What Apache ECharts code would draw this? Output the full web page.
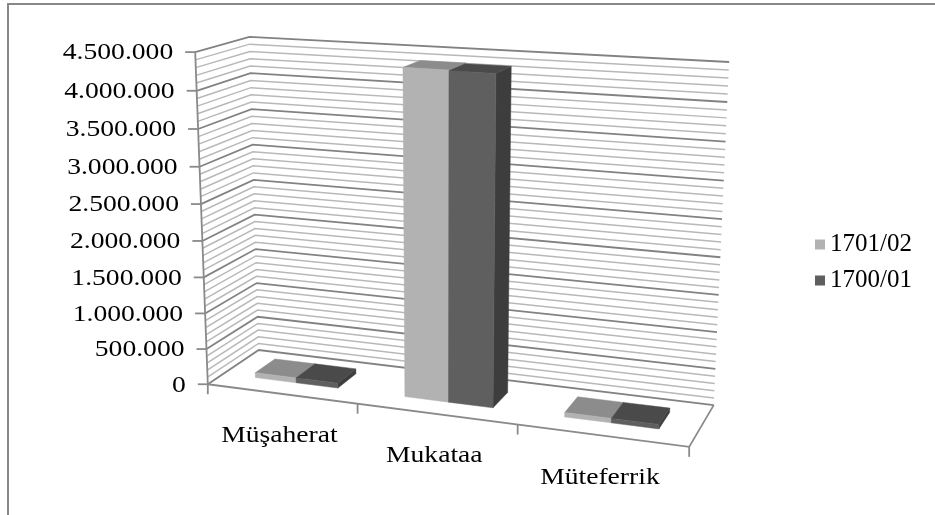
<!DOCTYPE html>
<html>
<head>
<meta charset="utf-8">
<script src="https://cdn.jsdelivr.net/npm/echarts@6/dist/echarts.min.js"></script>
<style>html,body{margin:0;padding:0;background:#fff}#c{width:935px;height:515px}</style>
</head>
<body>
<div id="c"></div>
<script>
// ---- data ----
const categories = ['Müşaherat', 'Mukataa', 'Müteferrik'];
const seriesNames = ['1701/02', '1700/01'];
const values170102 = [70000, 4380000, 60000];
const values170001 = [70000, 4370000, 60000];
const yTickLabels = ['0', '500.000', '1.000.000', '1.500.000', '2.000.000', '2.500.000', '3.000.000', '3.500.000', '4.000.000', '4.500.000'];
const yMin = 0, yMax = 4500000, yInterval = 500000, yMinorInterval = 100000;

// ---- layout of the 3D view (projection calibration, in normalized box space) ----
const viewCorners = [
  [0, 0, 0, 208, 384], [0, 1, 0, 195, 52], [1, 0, 0, 689, 447],
  [0, 0, 1, 258, 350], [0, 1, 1, 250, 37], [1, 1, 1, 729, 62], [1, 0, 1, 714, 405]
];
const frontAxisY = [384, 349, 314, 278, 241, 204, 166, 129, 91, 52];
const clusterFrac = 0.56, depthStart = 0.3, depthEnd = 0.7;
const FONT = '24px "Liberation Serif", "Times New Roman", serif';
const TEXT_SX = 1.15;

function fitCamera(pts) {
  const n = 11;
  const M = Array.from({length: n}, () => new Array(n).fill(0));
  const r = new Array(n).fill(0);
  function add(row, b) {
    for (let i = 0; i < n; i++) { r[i] += row[i] * b; for (let j = 0; j < n; j++) M[i][j] += row[i] * row[j]; }
  }
  for (const [X, Y, Z, x, y] of pts) {
    add([X, Y, Z, 1, 0, 0, 0, 0, -x * X, -x * Y, -x * Z], x);
    add([0, 0, 0, 0, X, Y, Z, 1, -y * X, -y * Y, -y * Z], y);
  }
  for (let c = 0; c < n; c++) {
    let p = c;
    for (let i = c + 1; i < n; i++) if (Math.abs(M[i][c]) > Math.abs(M[p][c])) p = i;
    [M[c], M[p]] = [M[p], M[c]]; [r[c], r[p]] = [r[p], r[c]];
    for (let i = c + 1; i < n; i++) {
      const f = M[i][c] / M[c][c];
      for (let j = c; j < n; j++) M[i][j] -= f * M[c][j];
      r[i] -= f * r[c];
    }
  }
  const p = new Array(n).fill(0);
  for (let i = n - 1; i >= 0; i--) {
    let s = r[i];
    for (let j = i + 1; j < n; j++) s -= M[i][j] * p[j];
    p[i] = s / M[i][i];
  }
  return p;
}
const calib = viewCorners.slice();
frontAxisY.forEach((y, k) => calib.push([0, k / 9, 0, 208 - 13 * (384 - y) / 332, y]));
const CAM = fitCamera(calib);
function P(u, v, w) {
  const d = CAM[8] * u + CAM[9] * v + CAM[10] * w + 1;
  return [(CAM[0] * u + CAM[1] * v + CAM[2] * w + CAM[3]) / d, (CAM[4] * u + CAM[5] * v + CAM[6] * w + CAM[7]) / d];
}
function normV(api, cs, value) {
  const pt = api.coord([0, value]);
  return (cs.y + cs.height - pt[1]) / cs.height;
}

const barColors = [
  {front: '#b2b2b2', top: '#8c8c8c', side: '#7c7c7c'},
  {front: '#5f5f5f', top: '#4a4a4a', side: '#3d3d3d'}
];
function barRender(s) {
  return function (params, api) {
    const cs = params.coordSys;
    const ci = api.value(0), val = api.value(1);
    const base = api.coord([ci, 0]);
    const top = api.coord([ci, val]);
    const band = api.size([1, 0])[0];
    const uc = (base[0] - cs.x) / cs.width, du = band / cs.width;
    const v1 = (cs.y + cs.height - top[1]) / cs.height;
    const bw = du * clusterFrac / 2;
    const u0 = uc - du * clusterFrac / 2 + s * bw, u1 = u0 + bw;
    const w0 = depthStart, w1 = depthEnd;
    const col = barColors[s];
    const poly = (pts, fill) => ({type: 'polygon', shape: {points: pts}, style: {fill: fill, stroke: fill, lineWidth: 0.5}});
    return {type: 'group', children: [
      poly([P(u1, 0, w0), P(u1, 0, w1), P(u1, v1, w1), P(u1, v1, w0)], col.side),
      poly([P(u0, v1, w0), P(u1, v1, w0), P(u1, v1, w1), P(u0, v1, w1)], col.top),
      poly([P(u0, 0, w0), P(u1, 0, w0), P(u1, v1, w0), P(u0, v1, w0)], col.front)
    ]};
  };
}

const gridValues = [];
for (let v = yMin; v <= yMax; v += yMinorInterval) gridValues.push(v);

const chart = echarts.init(document.getElementById('c'), null, {renderer: 'canvas'});
chart.setOption({
  animation: false,
  backgroundColor: '#fff',
  color: ['#b2b2b2', '#5f5f5f'],
  grid: {left: 0, top: 0, width: 900, height: 450, containLabel: false},
  xAxis: {type: 'category', data: categories, show: false},
  yAxis: {type: 'value', min: yMin, max: yMax, interval: yInterval, show: false},
  legend: {
    orient: 'vertical', left: 810, top: 227, itemWidth: 10, itemHeight: 10, icon: 'rect', itemGap: 11,
    textStyle: {fontFamily: '"Liberation Serif", "Times New Roman", serif', fontSize: 25, color: '#000', lineHeight: 25},
    data: seriesNames
  },
  graphic: [{
    type: 'polyline', silent: true,
    shape: {points: [[8, 515], [8, 4], [935, 4]]},
    style: {stroke: '#888', lineWidth: 2, fill: null}
  }],
  series: [
    { // walls + gridlines
      type: 'custom', name: 'walls', z: 1, silent: true,
      data: gridValues.map(v => [0, v]),
      renderItem: function (params, api) {
        const cs = params.coordSys;
        const val = api.value(1);
        const v = normV(api, cs, val);
        const major = val % yInterval === 0;
        return {type: 'polyline', shape: {points: [P(0, v, 0), P(0, v, 1), P(1, v, 1)]},
          style: {stroke: major ? '#828282' : '#b8b8b8', lineWidth: major ? 1.8 : 1.5, fill: null}};
      }
    },
    { // floor edges, value axis line & ticks, category ticks
      type: 'custom', name: 'frame', z: 2, silent: true,
      data: [[0, 0]],
      renderItem: function (params, api) {
        const cs = params.coordSys;
        const ch = [];
        const line = (a, b) => ({type: 'line', shape: {x1: a[0], y1: a[1], x2: b[0], y2: b[1]}, style: {stroke: '#8a8a8a', lineWidth: 1.8}});
        ch.push({type: 'polyline', shape: {points: [P(0, 0, 0), P(1, 0, 0), P(1, 0, 1)]}, style: {stroke: '#8a8a8a', lineWidth: 1.8, fill: null}});
        ch.push(line(P(0, 0, 0), P(0, 1, 0)));
        for (let i = 0; i < yTickLabels.length; i++) {
          const v = normV(api, cs, yMin + i * yInterval);
          const a = P(0, v, 0);
          ch.push(line([a[0] - 10, a[1]], a));
        }
        for (let k = 0; k <= categories.length; k++) {
          const a = P(k / categories.length, 0, 0);
          ch.push(line(a, [a[0], a[1] + 10]));
        }
        return {type: 'group', children: ch};
      }
    },
    { // value axis labels
      type: 'custom', name: 'yLabels', z: 3, silent: true,
      data: yTickLabels.map((t, i) => [0, yMin + i * yInterval]),
      renderItem: function (params, api) {
        const cs = params.coordSys;
        const v = normV(api, cs, api.value(1));
        const a = P(0, v, 0);
        return {type: 'text', x: a[0] - 22, y: a[1] + 1, scaleX: TEXT_SX,
          style: {text: yTickLabels[params.dataIndex], font: FONT, fill: '#000', align: 'right', verticalAlign: 'middle'}};
      }
    },
    { // category labels
      type: 'custom', name: 'xLabels', z: 3, silent: true,
      data: categories.map((c, i) => [i, 0]),
      renderItem: function (params, api) {
        const cs = params.coordSys;
        const p = api.coord([api.value(0), 0]);
        const u = (p[0] - cs.x) / cs.width;
        const a = P(u, 0, 0);
        return {type: 'text', x: a[0] - 2, y: a[1] + 42, scaleX: TEXT_SX,
          style: {text: categories[params.dataIndex], font: FONT, fill: '#000', align: 'center', verticalAlign: 'middle'}};
      }
    },
    {
      type: 'custom', name: seriesNames[0], z: 5,
      itemStyle: {color: '#b2b2b2'},
      data: values170102.map((v, i) => [i, v]),
      encode: {x: 0, y: 1},
      renderItem: barRender(0)
    },
    {
      type: 'custom', name: seriesNames[1], z: 6,
      itemStyle: {color: '#5f5f5f'},
      data: values170001.map((v, i) => [i, v]),
      encode: {x: 0, y: 1},
      renderItem: barRender(1)
    }
  ]
});
</script>
</body>
</html>
